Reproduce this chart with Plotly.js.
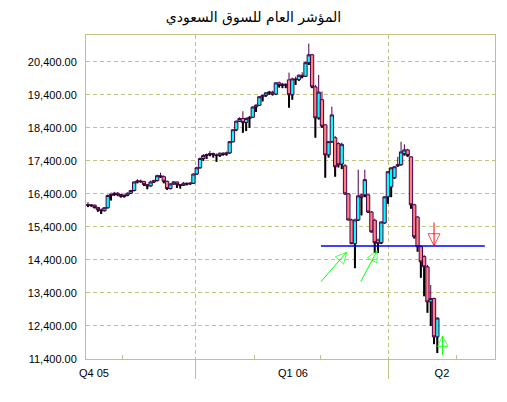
<!DOCTYPE html>
<html>
<head>
<meta charset="utf-8">
<script src="https://cdn.plot.ly/plotly-3.0.1.min.js"></script>
<style>html,body{margin:0;padding:0;background:#fff;}#chart{width:507px;height:402px;}</style>
</head>
<body>
<div id="chart"></div>
<script>
// ---- data ----
const openP = [16080,16050,16060,15990,15920,15890,15980,16350,16380,16420,
16380,16320,16360,16420,16500,16760,16790,16770,16680,16640,
16760,16800,16950,16920,16780,16560,16700,16760,16680,16660,
16720,16700,16720,17000,17190,17470,17560,17590,17620,17580,
17560,17630,17600,17640,17980,18340,18600,18680,18560,18680,
18720,19030,19080,19340,19380,19460,19480,19420,19760,19680,
19720,19850,19400,19880,19860,19990,19960,20370,20610,19640,
18700,19250,18490,17580,17980,18100,17920,17300,17250,16400,
15610,14890,15610,16370,16370,16370,15850,15600,15000,14920,
15520,16310,16610,16890,17250,17280,17620,17730,17520,16070,
15700,14800,14500,14190,13130,13230,12070];
const highP = [16150,16090,16070,16000,15960,16000,16380,16440,16460,16450,
16400,16380,16440,16520,16780,16840,16830,16800,16700,16800,
16830,16980,17040,16960,16800,16720,16790,16770,16700,16760,
16750,16760,17020,17220,17500,17600,17620,17700,17650,17620,
17650,17660,17680,18000,18360,18620,18720,18900,18720,18760,
19050,19120,19360,19400,19480,19520,19520,19780,19800,19760,
19740,20070,19920,19950,20020,20080,20400,20950,20640,19700,
20000,19500,18500,18000,19040,18150,17960,17950,17300,16420,
15650,15650,17130,16400,17130,16400,15880,15650,15050,15560,
16320,17080,17200,17230,17520,17980,17900,17760,17540,16100,
15720,14850,14550,14250,13640,13260,12660];
const lowP = [16000,16010,15960,15860,15790,15870,15960,16200,16340,16330,
16290,16290,16330,16400,16480,16720,16740,16640,16540,16620,
16730,16780,16880,16720,16520,16540,16680,16580,16560,16640,
16660,16680,16700,16980,17170,17400,17460,17540,17500,17370,
17520,17560,17560,17620,17960,18300,18580,18250,18300,18400,
18700,18880,19060,19200,19340,19400,19380,19400,19620,19600,
19600,19010,19250,19700,19820,19900,19940,20300,19600,18100,
18650,18400,16890,17500,17950,16920,17200,17150,16380,15600,
14880,14150,15580,15750,16300,15820,15230,14610,14610,14880,
15500,16100,16300,16850,17220,17260,17560,17520,15950,15050,
14650,13860,13300,12800,12400,11850,11580];
const closeP = [16050,16060,15990,15920,15890,15980,16350,16380,16420,16380,
16320,16360,16420,16500,16760,16790,16770,16680,16640,16760,
16800,16950,16920,16780,16560,16700,16760,16680,16660,16720,
16700,16720,17000,17190,17470,17560,17590,17620,17580,17560,
17630,17600,17640,17980,18340,18600,18680,18560,18680,18720,
19030,19080,19340,19380,19460,19480,19420,19760,19680,19720,
19700,19400,19880,19860,19990,19960,20370,20610,19640,18700,
19480,18450,17580,17980,18790,17220,17280,17900,16400,15610,
14890,15610,16340,16300,16830,15850,15250,14920,14900,15550,
16310,17070,17190,17220,17280,17670,17730,17560,16070,15100,
14800,14340,14190,13130,13230,12070,12640];

// axis ticks / labels (positions on the trading-day axis)
const xRange      = [-0.6, 123.5];
const quarterPos  = [1.83, 62.2, 107.4];
const quarterText = ['Q4 05', 'Q1 06', 'Q2'];
const quarterGrid = [32.5, 91.3];
const monthTicks  = [10.6, 50.4, 70.7, 111.7];
const yTicks      = [11400,12400,13400,14400,15400,16400,17400,18400,19400,20400];
const yRange      = [11400, 21209];

// drawn annotations (trend line and signal arrows)
const supportX    = [70.7, 120.4];
const supportY    = [14820, 14820];
const upArrowsX   = [[70.7, 78.5], [82.75, 87.8]];
const upArrowsY   = [[13742, 14633], [13742, 14682]];
const sellX       = [105.0, 105.0];
const sellY       = [15530, 14830];
const buyX        = [107.6, 107.6];
const buyY        = [11521, 12097];

const idx = openP.map((_, i) => i);

const KHAKI = '#c2c283';
const PURPLE = '#4a0048';

const candles = {
  type: 'candlestick',
  x: idx, open: openP, high: highP, low: lowP, close: closeP,
  increasing: {line: {color: PURPLE, width: 1}, fillcolor: '#00ffff'},
  decreasing: {line: {color: PURPLE, width: 1}, fillcolor: '#ff8080'},
  whiskerwidth: 0,
  hoverinfo: 'skip', showlegend: false
};

// black lower shadows
const wx = [], wy = [];
idx.forEach(i => {
  wx.push(i, i, null);
  wy.push(lowP[i], Math.min(openP[i], closeP[i]), null);
});
const lowerWicks = {
  type: 'scatter', mode: 'lines', x: wx, y: wy,
  line: {color: '#000000', width: 2}, hoverinfo: 'skip', showlegend: false
};

const support = {
  type: 'scatter', mode: 'lines', x: supportX, y: supportY,
  line: {color: '#0000ff', width: 1.5}, hoverinfo: 'skip', showlegend: false
};

function arrowTrace(xs, ys, color, size) {
  return {
    type: 'scatter', mode: 'lines+markers', x: xs, y: ys,
    line: {color: color, width: 1, backoff: 0},
    marker: {symbol: 'arrow-up-open', size: [0, size], color: color,
             angleref: 'previous', line: {width: 1, color: color}},
    hoverinfo: 'skip', showlegend: false
  };
}

const arrowTraces = upArrowsX.map((ax, k) => arrowTrace(ax, upArrowsY[k], '#00ff00', 11));
const sell = arrowTrace(sellX, sellY, '#ff0000', 12);
const buy = arrowTrace(buyX, buyY, '#00ff00', 10.5);

const gridHelper = {
  type: 'scatter', mode: 'markers', x: quarterGrid, y: quarterGrid.map(() => null),
  xaxis: 'x2', hoverinfo: 'skip', showlegend: false
};
const monthHelper = {
  type: 'scatter', mode: 'markers', x: monthTicks, y: monthTicks.map(() => null),
  xaxis: 'x3', hoverinfo: 'skip', showlegend: false
};

const FONT = 'Liberation Sans, Arial, sans-serif';

const layout = {
  width: 507, height: 402,
  margin: {l: 86, r: 12, t: 35, b: 43, pad: 0},
  paper_bgcolor: '#ffffff', plot_bgcolor: '#ffffff',
  showlegend: false,
  boxgap: 0, boxgroupgap: 0,
  title: {
    text: 'المؤشر العام للسوق السعودي',
    font: {family: 'DejaVu Sans, sans-serif', size: 14, color: '#000000'},
    x: 0.5, xref: 'container', xanchor: 'center',
    y: 0.957, yref: 'container', yanchor: 'middle'
  },
  xaxis: {
    range: xRange, rangeslider: {visible: false},
    tickmode: 'array', tickvals: quarterPos, ticktext: quarterText,
    ticks: '', showgrid: false, zeroline: false,
    showline: true, mirror: true, linecolor: KHAKI, linewidth: 1,
    tickfont: {family: FONT, size: 11, color: '#000000'},
    ticklabelstandoff: 4
  },
  xaxis2: {
    overlaying: 'x', range: xRange, anchor: 'y',
    tickmode: 'array', tickvals: quarterGrid, showticklabels: false,
    showgrid: true, gridcolor: KHAKI, gridwidth: 1, griddash: '4px,3px',
    ticks: 'outside', ticklen: 19, tickcolor: KHAKI, tickwidth: 1,
    zeroline: false, showline: false
  },
  xaxis3: {
    overlaying: 'x', range: xRange, anchor: 'y',
    tickmode: 'array', tickvals: monthTicks, showticklabels: false,
    showgrid: false, ticks: 'inside', ticklen: 4, tickcolor: KHAKI, tickwidth: 1,
    zeroline: false, showline: false
  },
  yaxis: {
    range: yRange, tickmode: 'array', tickvals: yTicks, tickformat: ',.2f',
    showgrid: true, gridcolor: KHAKI, gridwidth: 1, griddash: '4px,3px',
    ticks: '', zeroline: false,
    showline: true, mirror: true, linecolor: KHAKI, linewidth: 1,
    tickfont: {family: FONT, size: 11, color: '#000000'},
    ticklabelstandoff: 6
  }
};

Plotly.newPlot('chart', [candles, lowerWicks, support, ...arrowTraces, sell, buy, gridHelper, monthHelper], layout, {staticPlot: true, displayModeBar: false});
</script>
</body>
</html>
